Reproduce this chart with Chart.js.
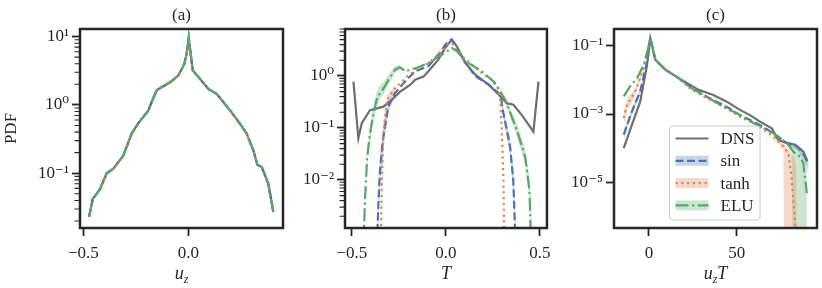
<!DOCTYPE html>
<html>
<head>
<meta charset="utf-8">
<script src="https://cdn.jsdelivr.net/npm/chart.js@4.4.0/dist/chart.umd.min.js"></script>
<style>
  body { margin: 0; background: #fff; }
  .panel { position: absolute; top: 0; }
</style>
</head>
<body>
<canvas id="panel-a" class="panel" style="left:0px" width="290" height="288"></canvas>
<canvas id="panel-b" class="panel" style="left:290px" width="268" height="288"></canvas>
<canvas id="panel-c" class="panel" style="left:558px" width="264" height="288"></canvas>
<script>
// (a) PDF of u_z -- all four curves sit on top of each other
const uzX = [-0.473, -0.455, -0.42, -0.389, -0.357, -0.31, -0.27, -0.238, -0.19, -0.175, -0.15, -0.087, -0.048, -0.019, -0.008, 0.002, 0.011, 0.021, 0.056, 0.095, 0.135, 0.199, 0.246, 0.278, 0.31, 0.329, 0.35, 0.381, 0.405]
const uzPdf = [0.023, 0.042, 0.059, 0.1, 0.117, 0.18, 0.38, 0.54, 0.83, 1.1, 1.65, 2.14, 2.68, 3.97, 5.6, 9.5, 5.6, 3.2, 2.4, 1.71, 1.45, 0.83, 0.53, 0.38, 0.215, 0.133, 0.123, 0.07, 0.027]

// (b) PDF of T
const tDnsX = [-0.491, -0.465, -0.447, -0.403, -0.332, -0.288, -0.243, -0.19, -0.163, -0.119, -0.093, -0.04, -0.004, 0.032, 0.058, 0.103, 0.156, 0.227, 0.28, 0.323, 0.359, 0.403, 0.465, 0.492]
const tDnsPdf = [0.78, 0.063, 0.123, 0.22, 0.257, 0.345, 0.5, 0.67, 0.85, 0.97, 1.23, 2.06, 3.45, 5.0, 3.7, 1.78, 1.06, 0.68, 0.44, 0.3, 0.28, 0.178, 0.085, 0.78]
const tSinX = [-0.366, -0.358, -0.35, -0.335, -0.323, -0.306, -0.27, -0.226, -0.163, -0.093, -0.04, 0.004, 0.029, 0.05, 0.094, 0.156, 0.227, 0.289, 0.306, 0.341, 0.358, 0.37]
const tSinPdf = [0.0006, 0.004, 0.015, 0.06, 0.106, 0.26, 0.47, 0.72, 1.23, 1.54, 2.57, 4.3, 5.0, 4.0, 2.06, 0.99, 0.68, 0.44, 0.19, 0.044, 0.01, 0.0006]
const tTanhX = [-0.346, -0.34, -0.332, -0.314, -0.27, -0.207, -0.163, -0.093, -0.02, 0.013, 0.04, 0.085, 0.191, 0.243, 0.28, 0.29, 0.297, 0.306, 0.31]
const tTanhPdf = [0.0006, 0.01, 0.08, 0.345, 0.58, 0.97, 1.3, 1.75, 3.0, 4.3, 4.0, 2.4, 1.14, 0.85, 0.55, 0.3, 0.091, 0.01, 0.0006]
const tEluX = [-0.437, -0.43, -0.418, -0.405, -0.39, -0.368, -0.35, -0.333, -0.305, -0.27, -0.244, -0.216, -0.15, -0.093, -0.02, 0.032, 0.058, 0.103, 0.191, 0.262, 0.315, 0.377, 0.421, 0.444, 0.448, 0.452]
const tEluPdf = [0.0006, 0.004, 0.028, 0.07, 0.15, 0.35, 0.47, 0.56, 0.84, 1.32, 1.47, 1.23, 1.45, 1.78, 2.57, 3.45, 3.0, 1.92, 1.23, 0.73, 0.35, 0.092, 0.028, 0.0064, 0.002, 0.0006]

// (b) spread of the trained models
const tSinBandX = [-0.366, -0.35, -0.323, -0.306, -0.27]
const tSinBandLo = [0.0003, 0.008, 0.075, 0.2, 0.42]
const tSinBandHi = [0.0012, 0.03, 0.15, 0.32, 0.52]
const tSinBand2X = [0.289, 0.306, 0.341, 0.358, 0.372]
const tSinBand2Lo = [0.4, 0.15, 0.03, 0.006, 0.0003]
const tSinBand2Hi = [0.48, 0.24, 0.06, 0.016, 0.0012]
const tTanhBandX = [-0.346, -0.34, -0.332, -0.314, -0.27]
const tTanhBandLo = [0.0003, 0.005, 0.05, 0.28, 0.5]
const tTanhBandHi = [0.003, 0.025, 0.13, 0.42, 0.66]
const tEluBandX = [-0.418, -0.39, -0.368, -0.35, -0.333, -0.305, -0.27, -0.244]
const tEluBandLo = [0.02, 0.11, 0.26, 0.36, 0.44, 0.68, 1.15, 1.3]
const tEluBandHi = [0.04, 0.22, 0.5, 0.66, 0.75, 1.05, 1.55, 1.65]
const tEluBand2X = [0.315, 0.377, 0.421, 0.444, 0.452, 0.458]
const tEluBand2Lo = [0.3, 0.07, 0.02, 0.004, 0.0012, 0.0004]
const tEluBand2Hi = [0.4, 0.12, 0.04, 0.011, 0.003, 0.001]

// (c) PDF of u_z T
const wtDnsX = [-14.4, -9.7, -5, -1.1, 0.75, 3.6, 9.3, 16.9, 28.3, 36.7, 44.3, 51.9, 57.6, 63.3, 70, 73.8, 78.6, 83.3, 88, 90.3]
const wtDnsPdf = [1.0e-4, 4.9e-4, 2.3e-3, 2.75e-2, 0.168, 3.9e-2, 2.0e-2, 1.12e-2, 5.1e-3, 3.6e-3, 2.3e-3, 1.32e-3, 9.3e-4, 6.0e-4, 3.8e-4, 1.74e-4, 1.41e-4, 1.26e-4, 7.9e-5, 4.1e-5]
const wtSinX = [-14.4, -9.7, -5, -1.1, 0.75, 3.6, 9.3, 16.9, 23.4, 32.9, 42.4, 51.9, 61.4, 70.9, 78.6, 84.3, 88, 90.3]
const wtSinPdf = [2.5e-4, 1.2e-3, 4.6e-3, 3.5e-2, 0.168, 3.9e-2, 2.0e-2, 1.12e-2, 6.3e-3, 3.2e-3, 1.86e-3, 9.3e-4, 5.4e-4, 2.75e-4, 1.41e-4, 1.12e-4, 7.1e-5, 4.1e-5]
const wtTanhX = [-14.4, -12.5, -7.8, -3, 0.75, 3.6, 9.3, 16.9, 23.4, 32.9, 42.4, 51.9, 61.4, 70.9, 76.6, 79.5, 81, 82, 82.9, 83.9]
const wtTanhPdf = [7.6e-4, 1.86e-3, 4.6e-3, 2.2e-2, 0.168, 3.9e-2, 2.0e-2, 1.12e-2, 5.6e-3, 2.9e-3, 1.66e-3, 8.3e-4, 4.8e-4, 2.2e-4, 1.12e-4, 7.1e-5, 1.86e-5, 4.8e-6, 1.26e-6, 2.5e-7]
const wtEluX = [-14.4, -10.7, -6.8, -3, -0.2, 0.75, 3.6, 9.3, 16.9, 23.4, 32.9, 42.4, 51.9, 61.4, 70.9, 78.6, 82.3, 86.1, 88, 90]
const wtEluPdf = [3.3e-3, 6.5e-3, 1.12e-2, 2.75e-2, 9.5e-2, 0.168, 3.9e-2, 2.0e-2, 1.12e-2, 6.0e-3, 3.2e-3, 1.66e-3, 9.3e-4, 4.8e-4, 2.75e-4, 1.41e-4, 7.9e-5, 5.6e-5, 3.6e-5, 4.8e-6]

const wtSinBandX = [-14.4, -9.7, -5]
const wtSinBandLo = [1.8e-4, 9.5e-4, 3.8e-3]
const wtSinBandHi = [3.5e-4, 1.5e-3, 5.5e-3]
const wtSinBand2X = [78.6, 84.3, 88, 90.3, 91]
const wtSinBand2Lo = [1.25e-4, 9e-5, 5e-5, 2.5e-5, 2e-5]
const wtSinBand2Hi = [1.6e-4, 1.35e-4, 9e-5, 5.5e-5, 4e-5]
const wtTanhBandX = [-14.4, -12.5, -7.8, -3]
const wtTanhBandLo = [4.5e-4, 1.2e-3, 3.5e-3, 1.9e-2]
const wtTanhBandHi = [1.3e-3, 2.8e-3, 6e-3, 2.6e-2]
const wtTanhBand2X = [70.9, 76.6, 77.2, 80, 83, 84, 84.3]
const wtTanhBand2Lo = [2.0e-4, 9e-5, 1e-8, 1e-8, 1e-8, 1e-8, 1e-8]
const wtTanhBand2Hi = [2.5e-4, 1.35e-4, 1.28e-4, 9e-5, 5e-5, 3e-5, 1e-8]
const wtEluBandX = [78.6, 81.4, 82, 84, 86, 88, 89.8, 90.1]
const wtEluBandLo = [1.25e-4, 8e-5, 1e-8, 1e-8, 1e-8, 1e-8, 1e-8, 1e-8]
const wtEluBandHi = [1.6e-4, 1.25e-4, 1.15e-4, 1.0e-4, 8e-5, 6.5e-5, 5e-5, 1e-8]

// ticks
const uzTicks = [-0.5, 0]
const uzTickLabels = ['−0.5', '0.0']
const tTicks = [-0.5, 0, 0.5]
const tTickLabels = ['−0.5', '0.0', '0.5']
const wtTicks = [0, 50]
const wtTickLabels = ['0', '50']
const pdfTicksA = [0.1, 1, 10]
const pdfLabelsA = ['10⁻¹', '10⁰', '10¹']
const pdfTicksB = [0.01, 0.1, 1]
const pdfLabelsB = ['10⁻²', '10⁻¹', '10⁰']
const pdfTicksC = [1e-5, 1e-3, 1e-1]
const pdfLabelsC = ['10⁻⁵', '10⁻³', '10⁻¹']

const seriesNames = ['DNS', 'sin', 'tanh', 'ELU']
const seriesColors = ['#6e6e6e', '#4c72b0', '#dd8452', '#55a868']
const seriesBands = ['', 'rgba(76,114,176,0.3)', 'rgba(221,132,82,0.3)', 'rgba(85,168,104,0.3)']
const seriesDash = [[], [8, 3.5], [2.2, 3.6], [13, 3.5, 2.2, 3.5]]

const INK = '#262626'
const FONT = "'Liberation Serif', 'DejaVu Serif', serif"
Chart.defaults.font.family = FONT
Chart.defaults.font.size = 17
Chart.defaults.color = INK

function points(xs, ys) {
  return xs.map((x, i) => ({ x: x, y: ys[i] }))
}

function lineSet(k, xs, ys) {
  return {
    label: seriesNames[k],
    data: points(xs, ys),
    borderColor: seriesColors[k],
    borderDash: seriesDash[k],
    borderWidth: 2.2,
    pointRadius: 0,
    fill: false,
    order: 4 - k,
  }
}

function bandSets(k, xs, lo, hi) {
  return [
    { data: points(xs, lo), borderColor: 'transparent', borderWidth: 0, pointRadius: 0, fill: false, order: 9 },
    { data: points(xs, hi), borderColor: 'transparent', borderWidth: 0, pointRadius: 0, fill: '-1', backgroundColor: seriesBands[k], order: 9 },
  ]
}

function logMinors(lo, hi) {
  const out = []
  for (let e = -7; e <= 2; e++) {
    for (let k = 2; k <= 9; k++) {
      const v = Number((k * Math.pow(10, e)).toPrecision(3))
      if (v >= lo && v <= hi) out.push(v)
    }
  }
  return out
}

function drawXTitle(ctx, parts, cx, base) {
  const fonts = { i: `italic 18px ${FONT}`, s: `italic 12px ${FONT}` }
  let total = 0
  for (const [t, f] of parts) {
    ctx.font = fonts[f]
    total += ctx.measureText(t).width
  }
  let x = cx - total / 2
  ctx.fillStyle = INK
  ctx.textAlign = 'left'
  ctx.textBaseline = 'alphabetic'
  for (const [t, f] of parts) {
    ctx.font = fonts[f]
    ctx.fillText(t, x, f === 's' ? base + 4 : base)
    x += ctx.measureText(t).width
  }
}

function drawLegend(ctx, a) {
  const left = a.right - 147.5, top = a.bottom - 102, w = 90.5, h = 94
  ctx.beginPath()
  ctx.roundRect(left, top, w, h, 3)
  ctx.fillStyle = 'rgba(255,255,255,0.8)'
  ctx.fill()
  ctx.strokeStyle = '#cccccc'
  ctx.lineWidth = 1
  ctx.stroke()

  seriesNames.forEach((name, k) => {
    const cy = top + 12.5 + k * 22.3
    if (seriesBands[k]) {
      ctx.fillStyle = seriesBands[k]
      ctx.fillRect(left + 6, cy - 5, 33, 10)
    }
    ctx.beginPath()
    ctx.setLineDash(seriesDash[k])
    ctx.strokeStyle = seriesColors[k]
    ctx.lineWidth = 2.2
    ctx.moveTo(left + 6, cy)
    ctx.lineTo(left + 39, cy)
    ctx.stroke()
    ctx.setLineDash([])
    ctx.fillStyle = INK
    ctx.font = `17px ${FONT}`
    ctx.textAlign = 'left'
    ctx.textBaseline = 'middle'
    ctx.fillText(name, left + 51, cy + 1)
  })
}

// box around the axes, minor log ticks, x label with subscript, legend
const framePlugin = {
  id: 'frame',
  afterDatasetsDraw(chart, args, opts) {
    const { ctx, chartArea: a } = chart
    const y = chart.scales.y
    ctx.save()
    ctx.strokeStyle = INK
    ctx.lineWidth = 1.1
    ctx.beginPath()
    for (const v of opts.minor || []) {
      const py = y.getPixelForValue(v)
      ctx.moveTo(a.left - 5.5, py)
      ctx.lineTo(a.left, py)
    }
    ctx.stroke()
    ctx.lineWidth = 2.5
    ctx.strokeRect(a.left, a.top, a.width, a.height)
    drawXTitle(ctx, opts.xTitle, (a.left + a.right) / 2, 279)
    if (opts.legend) drawLegend(ctx, a)
    ctx.restore()
  }
}

function drawPanel(id, p) {
  new Chart(document.getElementById(id), {
    type: 'line',
    data: { datasets: p.datasets },
    options: {
      responsive: false,
      animation: false,
      events: [],
      layout: { padding: { top: 0, right: p.padRight, bottom: 0, left: 0 } },
      plugins: {
        legend: { display: false },
        tooltip: { enabled: false },
        title: {
          display: true,
          text: p.title,
          fullSize: false,
          padding: { top: 5, bottom: 3.6 },
          font: { size: 17, weight: 'normal' },
        },
        frame: { minor: p.yMinor, xTitle: p.xTitle, legend: p.legend },
      },
      scales: {
        x: {
          type: 'linear',
          min: p.xMin,
          max: p.xMax,
          afterBuildTicks: s => { s.ticks = p.xTicks.map(v => ({ value: v })) },
          afterFit: s => { s.height = 60 },
          ticks: { autoSkip: false, maxRotation: 0, padding: 7, callback: v => p.xLabels[p.xTicks.indexOf(v)] },
          grid: { drawOnChartArea: false, tickLength: 8, tickWidth: 1.8, tickColor: INK },
          border: { display: false },
        },
        y: {
          type: 'logarithmic',
          min: p.yMin,
          max: p.yMax,
          afterBuildTicks: s => { s.ticks = p.yTicks.map(v => ({ value: v })) },
          afterFit: s => { s.width = p.yWidth },
          ticks: { autoSkip: false, padding: 3, callback: v => p.yLabels[p.yTicks.indexOf(v)] },
          grid: { drawOnChartArea: false, tickLength: 8, tickWidth: 1.8, tickColor: INK },
          border: { display: false },
          title: { display: !!p.yTitle, text: p.yTitle || '', padding: { top: 1, bottom: 0 } },
        },
      },
    },
    plugins: [framePlugin],
  })
}

drawPanel('panel-a', {
  title: '(a)',
  datasets: [0, 1, 2, 3].map(k => lineSet(k, uzX, uzPdf)),
  xMin: -0.516, xMax: 0.451, xTicks: uzTicks, xLabels: uzTickLabels,
  yMin: 0.0158, yMax: 12.9, yTicks: pdfTicksA, yLabels: pdfLabelsA,
  yMinor: logMinors(0.0158, 12.9),
  yTitle: 'PDF', yWidth: 80, padRight: 7,
  xTitle: [['u', 'i'], ['z', 's']],
})

drawPanel('panel-b', {
  title: '(b)',
  datasets: [
    ...bandSets(1, tSinBandX, tSinBandLo, tSinBandHi),
    ...bandSets(1, tSinBand2X, tSinBand2Lo, tSinBand2Hi),
    ...bandSets(2, tTanhBandX, tTanhBandLo, tTanhBandHi),
    ...bandSets(3, tEluBandX, tEluBandLo, tEluBandHi),
    ...bandSets(3, tEluBand2X, tEluBand2Lo, tEluBand2Hi),
    lineSet(0, tDnsX, tDnsPdf),
    lineSet(1, tSinX, tSinPdf),
    lineSet(2, tTanhX, tTanhPdf),
    lineSet(3, tEluX, tEluPdf),
  ],
  xMin: -0.536, xMax: 0.537, xTicks: tTicks, xLabels: tTickLabels,
  yMin: 0.00119, yMax: 8.0, yTicks: pdfTicksB, yLabels: pdfLabelsB,
  yMinor: logMinors(0.00119, 8.0),
  yWidth: 55, padRight: 11,
  xTitle: [['T', 'i']],
})

drawPanel('panel-c', {
  title: '(c)',
  datasets: [
    ...bandSets(1, wtSinBandX, wtSinBandLo, wtSinBandHi),
    ...bandSets(1, wtSinBand2X, wtSinBand2Lo, wtSinBand2Hi),
    ...bandSets(2, wtTanhBandX, wtTanhBandLo, wtTanhBandHi),
    ...bandSets(2, wtTanhBand2X, wtTanhBand2Lo, wtTanhBand2Hi),
    ...bandSets(3, wtEluBandX, wtEluBandLo, wtEluBandHi),
    lineSet(0, wtDnsX, wtDnsPdf),
    lineSet(1, wtSinX, wtSinPdf),
    lineSet(2, wtTanhX, wtTanhPdf),
    lineSet(3, wtEluX, wtEluPdf),
  ],
  xMin: -19.95, xMax: 95.8, xTicks: wtTicks, xLabels: wtTickLabels,
  yMin: 4.6e-7, yMax: 0.308, yTicks: pdfTicksC, yLabels: pdfLabelsC,
  yMinor: [],
  yWidth: 56, padRight: 5,
  xTitle: [['u', 'i'], ['z', 's'], ['T', 'i']],
  legend: true,
})
</script>
</body>
</html>
